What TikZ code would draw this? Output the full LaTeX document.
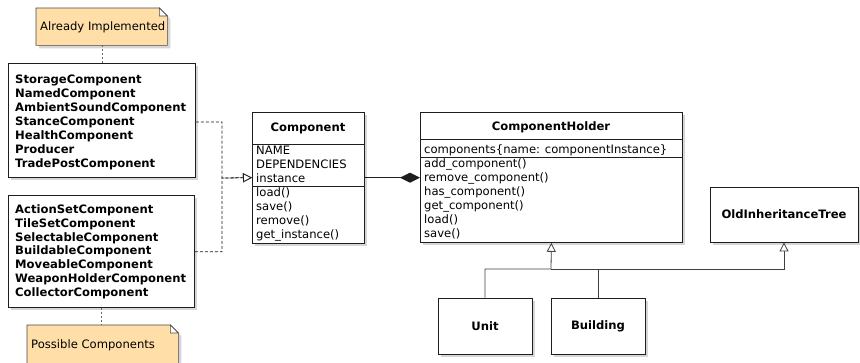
\documentclass[tikz,border=0pt]{standalone}
\usepackage{fontspec}
\setmainfont{DejaVu Sans}
\usetikzlibrary{arrows.meta,shadows}
\definecolor{notefill}{RGB}{255,222,168}
\definecolor{edge}{RGB}{30,30,30}
\newcommand\umlfont{\fontsize{11.6}{14}\selectfont}
\tikzset{
  txt/.style={font=\umlfont, inner sep=0pt},
  member/.style={txt, anchor=base west},
  bmember/.style={member, font=\umlfont\bfseries},
  ctitle/.style={txt, anchor=base, font=\umlfont\bfseries},
  shade/.style={drop shadow={shadow xshift=3pt, shadow yshift=-3pt, fill=gray!70, opacity=0.45}},
  box/.style={draw=edge, fill=white, line width=0.8pt, inner sep=0pt, anchor=north west, shade},
  namebox/.style={box, anchor=center, font=\umlfont\bfseries},
  sep/.style={draw=edge, line width=0.8pt},
  notebody/.style={draw=edge!80, fill=notefill, line width=0.6pt, shade},
  notefold/.style={draw=edge!80, fill=white, line width=0.6pt},
  noteframe/.style={inner sep=0pt, anchor=north west},
  anchorline/.style={draw=gray!80!black, line width=0.8pt, dash pattern=on 2pt off 2pt},
  realize/.style={draw=edge, line width=0.8pt, dash pattern=on 3pt off 2pt,
    -{Triangle[open, length=9pt, width=9pt, fill=white]}},
  compose/.style={draw=edge, line width=0.8pt, -{Diamond[length=20pt, width=10pt]}},
  generalize/.style={draw=edge!85, line width=0.8pt,
    -{Triangle[open, length=9pt, width=9pt, fill=white]}},
  plainline/.style={draw=edge!85, line width=0.8pt},
}
\begin{document}
\begin{tikzpicture}[x=1pt, y=-1pt]
\useasboundingbox (0,0) rectangle (860,362);
\fill[white] (0,0) rectangle (860,362);

% ---- note: Already Implemented
\node[noteframe, minimum width=131pt, minimum height=37pt] (note1) at (36,8) {};
\filldraw[notebody] (note1.north west) -- ([xshift=-8pt]note1.north east)
  -- ([yshift=-8pt]note1.north east) -- (note1.south east) -- (note1.south west) -- cycle;
\filldraw[notefold] ([xshift=-8pt]note1.north east) -- ([xshift=-8pt,yshift=-8pt]note1.north east)
  -- ([yshift=-8pt]note1.north east) -- cycle;
\node[member] (note1-t) at (40,30.5) {Already Implemented};

% ---- implemented components
\node[box, minimum width=187pt, minimum height=114pt] (impl) at (8,63) {};
\foreach \t [count=\i] in {StorageComponent, NamedComponent, AmbientSoundComponent,
    StanceComponent, HealthComponent, Producer, TradePostComponent}
  \node[bmember] (impl-\i) at (15,{83+14*(\i-1)}) {\t};

% ---- possible components
\node[box, minimum width=186pt, minimum height=112pt] (poss) at (8,195) {};
\foreach \t [count=\i] in {ActionSetComponent, TileSetComponent, SelectableComponent,
    BuildableComponent, MoveableComponent, WeaponHolderComponent, CollectorComponent}
  \node[bmember] (poss-\i) at (15,{213.5+13.8*(\i-1)}) {\t};

% ---- note: Possible Components
\node[noteframe, minimum width=151pt, minimum height=50pt] (note2) at (27,325) {};
\filldraw[notebody] (note2.north west) -- ([xshift=-8pt]note2.north east)
  -- ([yshift=-8pt]note2.north east) -- (note2.south east) -- (note2.south west) -- cycle;
\filldraw[notefold] ([xshift=-8pt]note2.north east) -- ([xshift=-8pt,yshift=-8pt]note2.north east)
  -- ([yshift=-8pt]note2.north east) -- cycle;
\node[member] (note2-t) at (31,348) {Possible Components};

% ---- class Component
\node[box, minimum width=112pt, minimum height=131pt] (comp) at (252,112) {};
\node[ctitle] (comp-t) at (308,131) {Component};
\draw[sep] (252,144) -- (364,144);
\draw[sep] (252,186) -- (364,186);
\foreach \t [count=\i] in {NAME, DEPENDENCIES, instance}
  \node[member] (comp-a\i) at (256,{154+14*(\i-1)}) {\t};
\foreach \t [count=\i] in {load(), save(), remove(), get\_instance()}
  \node[member] (comp-m\i) at (256,{196+14*(\i-1)}) {\t};

% ---- class ComponentHolder
\node[box, minimum width=262pt, minimum height=130pt] (holder) at (420,112) {};
\node[ctitle] (holder-t) at (551,130) {ComponentHolder};
\draw[sep] (420,139) -- (682,139);
\draw[sep] (420,157) -- (682,157);
\node[member] (holder-a1) at (424,153) {components\{name: componentInstance\}};
\foreach \t [count=\i] in {add\_component(), remove\_component(), has\_component(),
    get\_component(), load(), save()}
  \node[member] (holder-m\i) at (424,{167+14*(\i-1)}) {\t};

% ---- other classes
\node[namebox, minimum width=148pt, minimum height=55pt] (old) at (784,214.5) {OldInheritanceTree};
\node[namebox, minimum width=94pt, minimum height=56pt] (unit) at (485,326) {Unit};
\node[namebox, minimum width=94pt, minimum height=56pt] (bld) at (598,326) {Building};

% ---- note anchors
\draw[anchorline] (note1.south -| impl.north) -- (impl.north);
\draw[anchorline] (poss.south) -- (poss.south |- note2.north);

% ---- realization of Component
\coordinate (bus) at (222,178);
\draw[realize] (impl.east |- impl-4) -| (bus) -- (comp.west |- comp-a3);
\draw[realize] (poss.east |- poss-4) -| (bus) -- (comp.west |- comp-a3);

% ---- composition
\draw[compose] (comp.east |- comp-a3) -- (holder.west |- comp-a3);

% ---- generalization
\coordinate (junc) at (551,269);
\draw[generalize] (unit.north) |- (junc) -- (holder.south);
\draw[plainline] (bld.north) |- (junc);
\draw[generalize] (junc) -| (old.south);
\end{tikzpicture}
\end{document}
